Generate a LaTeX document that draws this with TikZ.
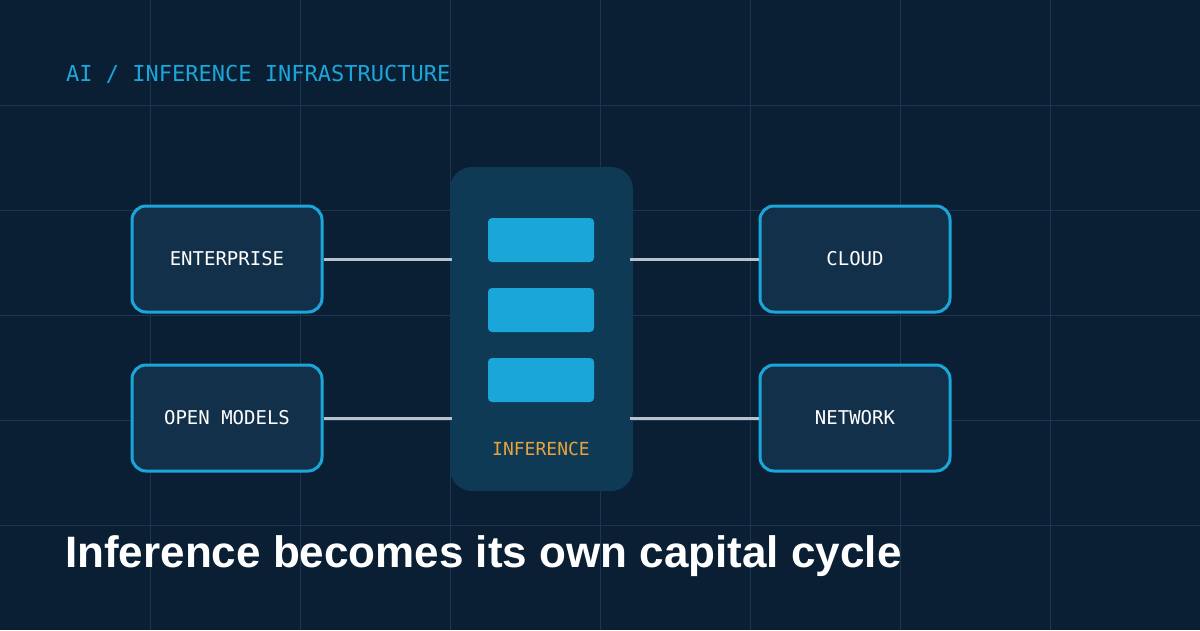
\documentclass[tikz,border=0pt]{standalone}
\usepackage{fontspec}
\setmainfont{Liberation Sans}
\setmonofont{DejaVu Sans Mono}
\definecolor{bg}{HTML}{0A1F33}
\definecolor{grid}{HTML}{1C3550}
\definecolor{cy}{HTML}{1BA6D9}
\definecolor{boxf}{HTML}{13304A}
\definecolor{panel}{HTML}{0E3A55}
\definecolor{ln}{HTML}{B8C2CC}
\definecolor{org}{HTML}{E8A33D}
\begin{document}
\begin{tikzpicture}[x=1pt,y=-1pt,
  box/.style={draw=cy,line width=3pt,fill=boxf,rounded corners=14pt,minimum width=190pt,minimum height=106pt,inner sep=0pt,font=\ttfamily\fontsize{19}{19}\selectfont,text=white},
  bar/.style={fill=cy,rounded corners=4pt,minimum width=106pt,minimum height=44pt,inner sep=0pt},
  conn/.style={draw=ln,line width=3pt}]
\useasboundingbox (0,0) rectangle (1200,630);
\fill[bg] (0,0) rectangle (1200,630);
\foreach \x in {150,300,...,1050} \draw[grid,line width=1pt] (\x,0) -- (\x,630);
\foreach \y in {105,210,315,420,525} \draw[grid,line width=1pt] (0,\y) -- (1200,\y);
\node[anchor=west,text=cy,font=\ttfamily\fontsize{22}{22}\selectfont,inner sep=0pt] (hdr) at (66,74) {AI / INFERENCE INFRASTRUCTURE};
\node[fill=panel,rounded corners=22pt,minimum width=183pt,minimum height=324pt,inner sep=0pt] (panel) at (541.5,329) {};
\node[bar] (b1) at (541,240) {};
\node[bar] (b2) at (541,310) {};
\node[bar] (b3) at (541,380) {};
\node[text=org,font=\ttfamily\fontsize{18}{18}\selectfont,inner sep=0pt] (inf) at (541,449) {INFERENCE};
\node[box] (ent) at (227,259) {ENTERPRISE};
\node[box] (open) at (227,418) {OPEN MODELS};
\node[box] (cloud) at (855,259) {CLOUD};
\node[box] (net) at (855,418) {NETWORK};
\coordinate (pl1) at (452,259); \coordinate (pl2) at (452,418);
\coordinate (pr1) at (630,259); \coordinate (pr2) at (630,418);
\draw[conn] (ent.east) -- (pl1);
\draw[conn] (open.east) -- (pl2);
\draw[conn] (pr1) -- (cloud.west);
\draw[conn] (pr2) -- (net.west);
\node[anchor=west,text=white,font=\bfseries\fontsize{44}{44}\selectfont,inner sep=0pt] (title) at (65,556) {Inference becomes its own capital cycle};
\end{tikzpicture}
\end{document}
